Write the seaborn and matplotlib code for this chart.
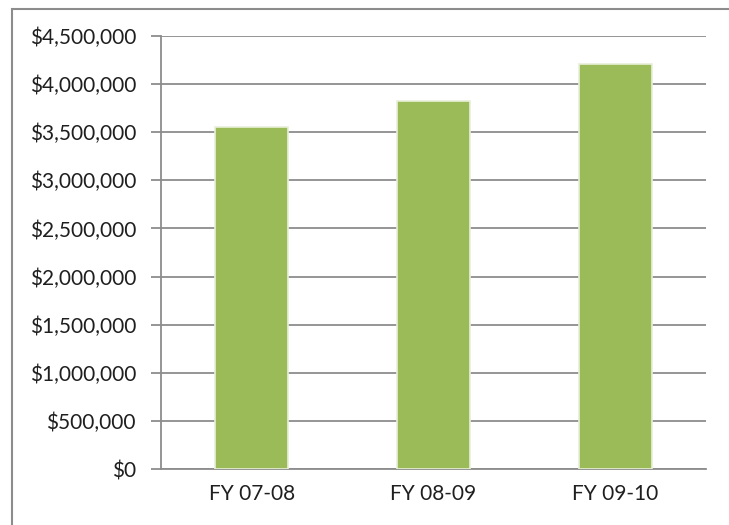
import matplotlib
matplotlib.use("Agg")
import matplotlib.pyplot as plt
import seaborn as sns
import pandas as pd
from matplotlib.ticker import FuncFormatter, MultipleLocator
from matplotlib.patches import Rectangle

categories = ["FY 07-08", "FY 08-09", "FY 09-10"]
values = [3551000, 3825000, 4209000]

df = pd.DataFrame({"year": categories, "amount": values})

sns.set_theme(style="white")
plt.rcParams['font.family'] = ['Lato', 'DejaVu Sans']

fig = plt.figure(figsize=(7.29, 5.25), dpi=100)
ax = fig.add_axes([161/729, 56/525, (706-161)/729, (469-36)/525])

sns.barplot(data=df, x="year", y="amount", color="#9BBB59", width=0.40,
            saturation=1, ax=ax, zorder=3, edgecolor="#E8EFD8", linewidth=1.2)

ax.set_ylim(0, 4500000)
ax.set_xlim(-0.5, 2.5)
ax.yaxis.set_major_locator(MultipleLocator(500000))
ax.yaxis.set_major_formatter(FuncFormatter(lambda v, p: f"${v:,.0f}"))
ax.grid(axis="y", color="#8C8C8C", linewidth=1.3, zorder=0)
ax.set_axisbelow(True)
ax.set_xlabel("")
ax.set_ylabel("")

for s in ["top", "right"]:
    ax.spines[s].set_visible(False)
for s in ["left", "bottom"]:
    ax.spines[s].set_color("#8C8C8C")
    ax.spines[s].set_linewidth(1.3)

ax.set_xticks([0, 1, 2])
ax.set_xticklabels(categories)
ax.set_xticks([-0.5, 0.5, 1.5, 2.5], minor=True)
ax.tick_params(axis="x", which="major", length=0, pad=11, labelsize=15, labelcolor="#1f1f1f")
ax.tick_params(axis="x", which="minor", length=7, width=1.3, color="#8C8C8C", direction="out")
ax.tick_params(axis="y", which="major", length=7, width=1.3, color="#8C8C8C", direction="out",
               left=True, pad=11, labelsize=15, labelcolor="#1f1f1f")

border = Rectangle((12/729, -0.2), 1.2, 1 - 9/525 + 0.2, transform=fig.transFigure,
                   fill=False, edgecolor="#8C8C8C", linewidth=1.5)
fig.patches.append(border)

fig.savefig("out.png", dpi=100)
